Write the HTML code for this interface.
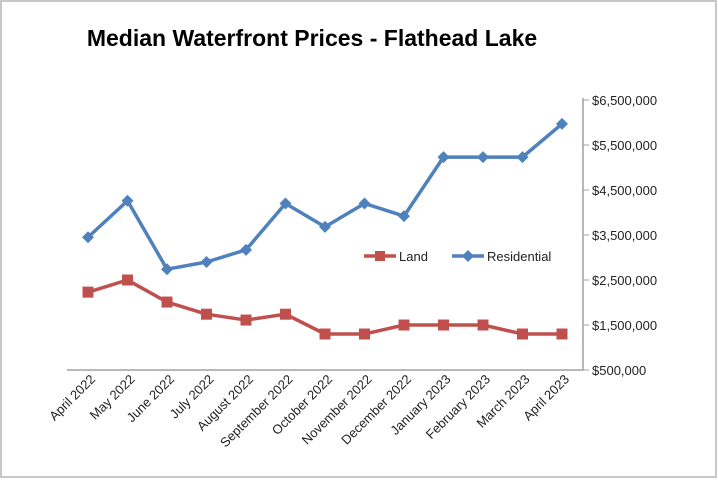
<!DOCTYPE html>
<html><head><meta charset="utf-8"><style>
body{margin:0;background:#fff;}
svg{display:block;font-family:"Liberation Sans",sans-serif;}
</style></head><body>
<svg id="chart" width="718" height="484" viewBox="0 0 718 484">
<rect x="1" y="1" width="715" height="476" fill="#fff" stroke="#c8c8c8" stroke-width="2"/>
<text x="312" y="46" text-anchor="middle" font-size="23" font-weight="bold" fill="#000">Median Waterfront Prices - Flathead Lake</text>
<g id="plot"></g>
</svg>
<script>
const categories=["April 2022","May 2022","June 2022","July 2022","August 2022","September 2022","October 2022","November 2022","December 2022","January 2023","February 2023","March 2023","April 2023"];
const residential=[3450000,4260000,2740000,2900000,3170000,4200000,3680000,4200000,3920000,5230000,5230000,5230000,5970000];
const land=[2230000,2500000,2010000,1740000,1610000,1740000,1300000,1300000,1500000,1500000,1500000,1300000,1300000];
const yTicks=[500000,1500000,2500000,3500000,4500000,5500000,6500000];
const yTickLabels=["$500,000","$1,500,000","$2,500,000","$3,500,000","$4,500,000","$5,500,000","$6,500,000"];
const NS="http://www.w3.org/2000/svg";
const g=document.getElementById('plot');
function x(i){return 88+i*(562-88)/(categories.length-1);}
function y(v){return 370-(v-500000)/1000000*45;}
function mk(t,a){const e=document.createElementNS(NS,t);for(const k in a)e.setAttribute(k,a[k]);g.appendChild(e);return e;}
let ax=mk('line',{x1:67,y1:370,x2:583,y2:370,stroke:'#a0a0a0','stroke-width':1.5});


let ay=mk('line',{x1:583,y1:y(6500000)-2,x2:583,y2:370,stroke:'#a0a0a0','stroke-width':1.5});


yTicks.forEach((v,i)=>{
 let t=mk('line',{x1:583,y1:y(v),x2:589,y2:y(v),stroke:'#a0a0a0'});
 
 
 let l=mk('text',{x:592,y:y(v)+5,'font-size':13,fill:'#222'});
 l.textContent=yTickLabels[i];
 
 
});
categories.forEach((c,i)=>{
 let l=mk('text',{x:x(i)+8,y:380,'font-size':13,fill:'#222','text-anchor':'end',transform:`rotate(-45 ${x(i)+8} 380)`});
 l.textContent=c;
 
 
});
function series(vals,color,shape,name){
 let p=mk('polyline',{points:vals.map((v,i)=>x(i)+','+y(v)).join(' '),fill:'none',stroke:color,'stroke-width':3.5,'stroke-linejoin':'round'});
 
 
 vals.forEach((v,i)=>{
  let m;
  if(shape==='sq')m=mk('rect',{x:x(i)-5.5,y:y(v)-5.5,width:11,height:11,fill:color});
  else m=mk('polygon',{points:`${x(i)},${y(v)-6} ${x(i)+6},${y(v)} ${x(i)},${y(v)+6} ${x(i)-6},${y(v)}`,fill:color});
  
  
 });
}
series(land,'#c0504d','sq','land');
series(residential,'#4f81bd','di','residential');
// legend
let l1=mk('line',{x1:364,y1:256,x2:396,y2:256,stroke:'#c0504d','stroke-width':3.5});


let r1=mk('rect',{x:375,y:251,width:10,height:10,fill:'#c0504d'});


let t1=mk('text',{x:399,y:261,'font-size':13,fill:'#222'});t1.textContent='Land';


let l2=mk('line',{x1:452,y1:256,x2:484,y2:256,stroke:'#4f81bd','stroke-width':3.5});


let d2=mk('polygon',{points:'468,250 474,256 468,262 462,256',fill:'#4f81bd'});


let t2=mk('text',{x:487,y:261,'font-size':13,fill:'#222'});t2.textContent='Residential';


</script>
</body></html>
